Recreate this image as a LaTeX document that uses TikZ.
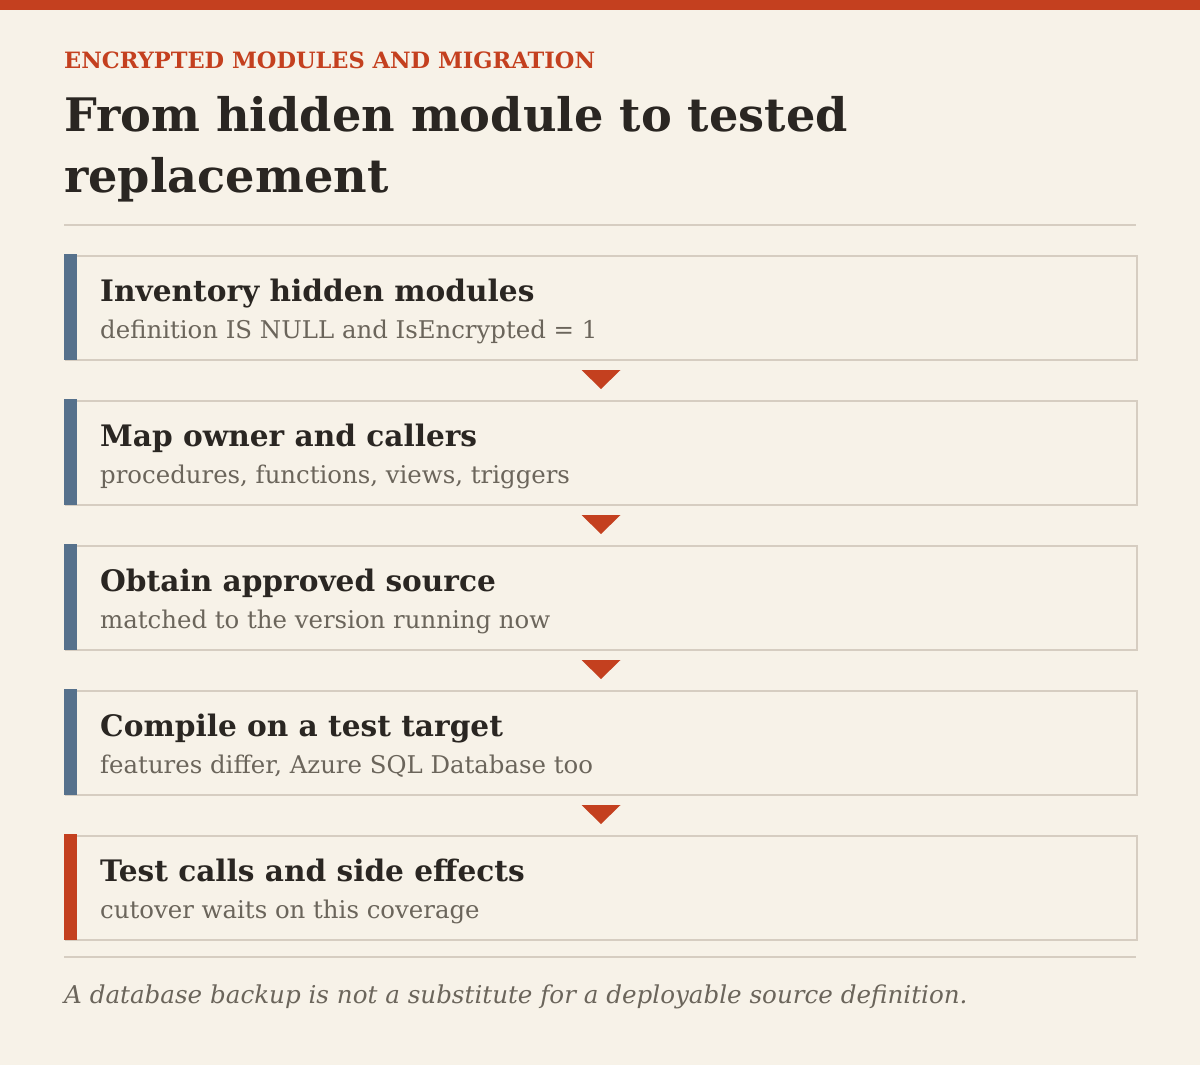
\documentclass[tikz,border=0pt]{standalone}
\usepackage{fontspec}
\setmainfont{DejaVu Serif}
\usetikzlibrary{calc}
\definecolor{bgc}{HTML}{F7F2E8}
\definecolor{redc}{HTML}{C4401F}
\definecolor{slatec}{HTML}{56718C}
\definecolor{borderc}{HTML}{D6CDC1}
\definecolor{inkc}{HTML}{2A2622}
\definecolor{greyc}{HTML}{6B655B}
\tikzset{
  stepbox/.style={draw=borderc, line width=2pt, fill=bgc, rectangle, minimum width=1071pt, minimum height=104pt, inner sep=0pt, anchor=north west},
  accentbar/.style={fill=slatec},
  lastbar/.style={fill=redc},
  steptitle/.style={anchor=base west, inner sep=0pt, text=inkc, font=\fontsize{29.6}{34}\selectfont\bfseries},
  stepsub/.style={anchor=base west, inner sep=0pt, text=greyc, font=\fontsize{24.4}{29}\selectfont},
  flowtri/.style={fill=redc},
  rulec/.style={draw=borderc, line width=2pt}
}
\begin{document}
\begin{tikzpicture}[x=1pt,y=-1pt]
\useasboundingbox (0,0) rectangle (1200,1065);
\fill[bgc] (0,0) rectangle (1200,1065);
\fill[redc] (0,0) rectangle (1200,10);
\node[anchor=base west, inner sep=0pt, text=redc, font=\fontsize{22.5}{27}\selectfont\bfseries] (kicker) at (64,69) {ENCRYPTED MODULES AND MIGRATION};
\node[anchor=base west, inner sep=0pt, text=inkc, font=\fontsize{46.2}{61}\selectfont\bfseries] (title1) at (64,131) {From hidden module to tested};
\node[anchor=base west, inner sep=0pt, text=inkc, font=\fontsize{46.2}{61}\selectfont\bfseries] (title2) at (64,192) {replacement};
\draw[rulec] (64,225) coordinate (r1a) -- (1136,225) coordinate (r1b);
% boxes
\foreach \i/\y/\t/\s/\bar in {
  1/255/{Inventory hidden modules}/{definition IS NULL and IsEncrypted = 1}/accentbar,
  2/400/{Map owner and callers}/{procedures, functions, views, triggers}/accentbar,
  3/545/{Obtain approved source}/{matched to the version running now}/accentbar,
  4/690/{Compile on a test target}/{features differ, Azure SQL Database too}/accentbar,
  5/835/{Test calls and side effects}/{cutover waits on this coverage}/lastbar}{
  \node[stepbox] (b\i) at (64.5,\y) {};
  \fill[\bar] (64,\y-1) rectangle (77,\y+105);
  \node[steptitle] (t\i) at (100,\y+46) {\t};
  \node[stepsub] (s\i) at (100,\y+83) {\s};
}
\foreach \i in {1,2,3,4}{
  \fill[flowtri] ($(b\i.south)+(-19.5,9)$) -- ($(b\i.south)+(19.5,9)$) -- ($(b\i.south)+(0,28)$) -- cycle;
}
\draw[rulec] (64,957) coordinate (r2a) -- (1136,957) coordinate (r2b);
\node[anchor=base west, inner sep=0pt, text=greyc, font=\fontsize{24.6}{29}\selectfont\itshape] (note) at (64,1003) {A database backup is not a substitute for a deployable source definition.};
\end{tikzpicture}
\end{document}
